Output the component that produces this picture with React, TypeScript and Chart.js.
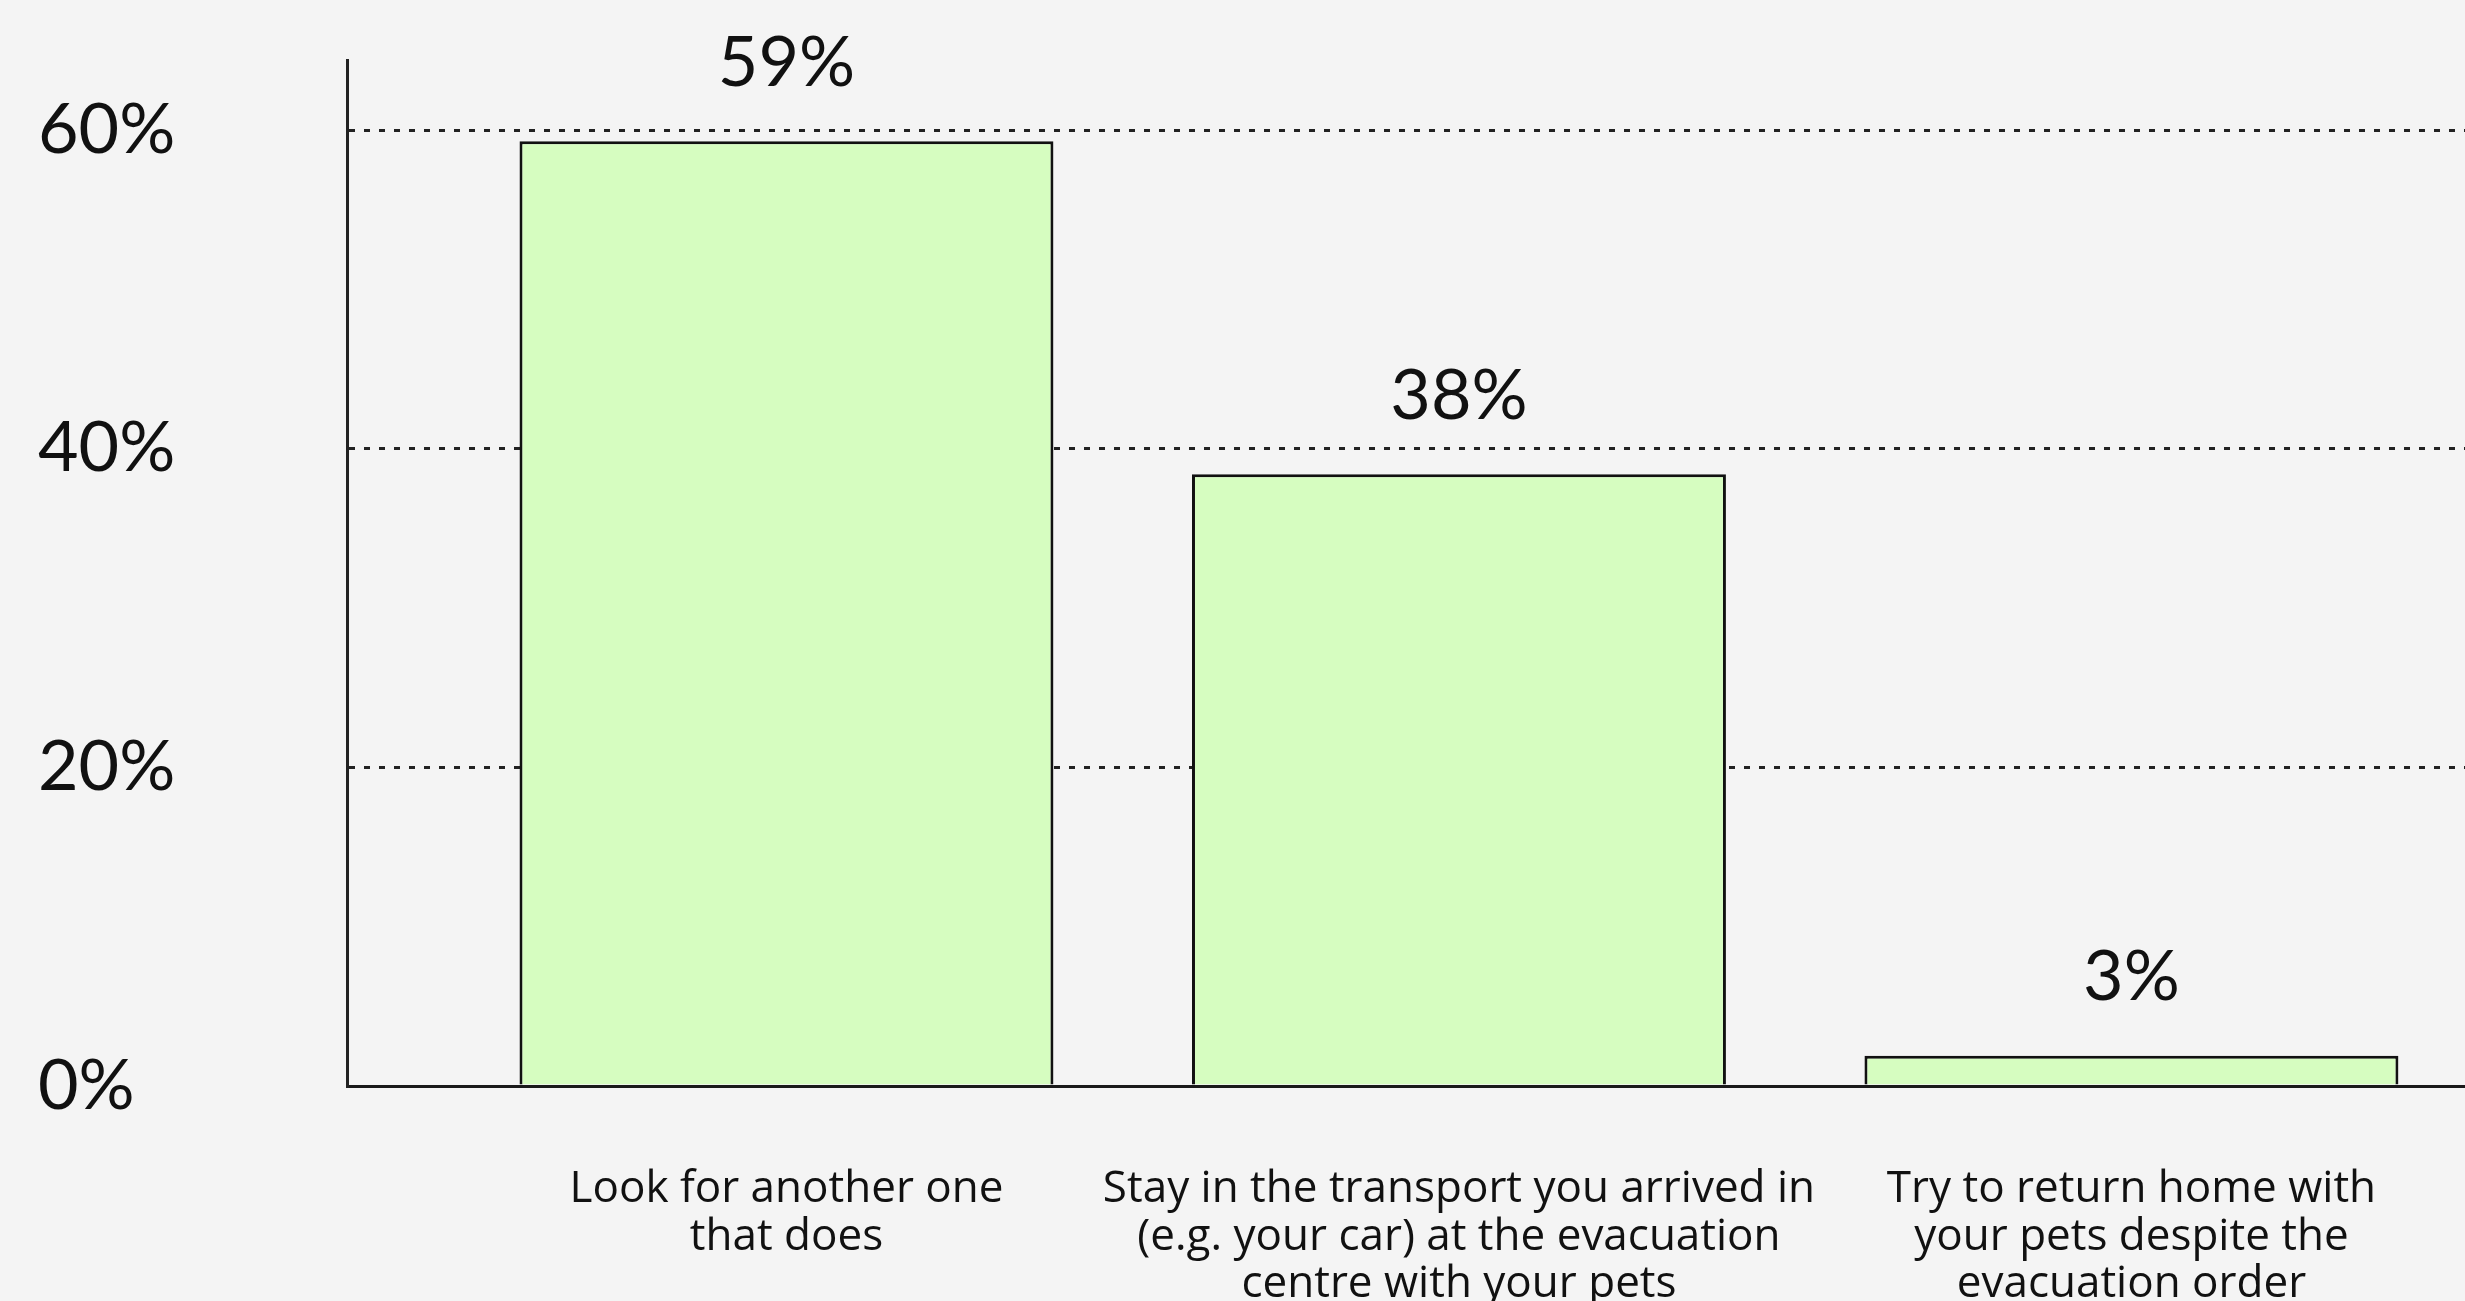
import React, { useEffect, useRef } from "react";
import { Chart, registerables } from "chart.js";

Chart.register(...registerables);

const categories: string[][] = [
  ["Look for another one", "that does"],
  ["Stay in the transport you arrived in", "(e.g. your car) at the evacuation", "centre with your pets"],
  ["Try to return home with", "your pets despite the", "evacuation order"],
];
const values: number[] = [59.3, 38.4, 1.9];
const valueLabels: string[] = ["59%", "38%", "3%"];
const yTicks: number[] = [0, 20, 40, 60];

const NUM_FONT = "Lato, 'Open Sans', sans-serif";
const CAT_FONT = "'Open Sans', Lato, sans-serif";
const TEXT = "#111111";

const valueLabelPlugin = {
  id: "valueLabels",
  afterDatasetsDraw(chart: any) {
    const { ctx } = chart;
    const meta = chart.getDatasetMeta(0);
    ctx.save();
    ctx.font = `400 70px ${NUM_FONT}`;
    ctx.fillStyle = TEXT;
    ctx.textAlign = "center";
    ctx.textBaseline = "middle";
    meta.data.forEach((bar: any, i: number) => {
      ctx.fillText(valueLabels[i], bar.x, bar.y - 78);
    });
    ctx.restore();
  },
};

export default function App() {
  const ref = useRef<HTMLCanvasElement | null>(null);

  useEffect(() => {
    document.body.style.margin = "0";
    document.body.style.background = "#f4f4f4";
    const canvas = ref.current;
    if (!canvas) return;
    const chart = new Chart(canvas, {
      type: "bar",
      data: {
        datasets: [
          {
            data: values.map((v, i) => ({ x: i, y: v })),
            backgroundColor: "#d6fdc0",
            borderColor: "#111111",
            borderWidth: 3,
            categoryPercentage: 1,
            barPercentage: 0.794,
          },
        ],
      },
      options: {
        animation: false,
        responsive: false,
        devicePixelRatio: 1,
        layout: { padding: { top: 60, left: 38, right: 0, bottom: 0 } },
        plugins: {
          legend: { display: false },
          tooltip: { enabled: false },
        },
        scales: {
          x: {
            type: "linear",
            offset: false,
            min: -0.6535,
            max: 2.496,
            grid: { display: false, drawTicks: false, offset: false },
            border: { display: true, color: "#1a1a1a", width: 3 },
            afterBuildTicks: (scale: any) => {
              scale.ticks = categories.map((_, i) => ({ value: i }));
            },
            afterFit: (scale: any) => {
              scale.height = 215;
              scale.paddingLeft = 0;
              scale.paddingRight = 0;
            },
            ticks: {
              autoSkip: false,
              maxRotation: 0,
              minRotation: 0,
              padding: 80,
              color: TEXT,
              font: { family: CAT_FONT, size: 44, lineHeight: 1.08 },
              callback: (value: any) => categories[Math.round(Number(value))] ?? "",
            },
          },
          y: {
            type: "linear",
            min: 0,
            max: 64.4,
            afterBuildTicks: (scale: any) => {
              scale.ticks = yTicks.map((v) => ({ value: v }));
            },
            afterFit: (scale: any) => {
              scale.width = 309;
              scale.paddingTop = 0;
              scale.paddingBottom = 0;
            },
            grid: {
              drawTicks: false,
              lineWidth: 3,
              color: (ctx: any) => (ctx.tick && ctx.tick.value === 0 ? "rgba(0,0,0,0)" : "#222222"),
            },
            border: { display: true, color: "#222222", width: 3, dash: [6, 9] },
            ticks: {
              crossAlign: "far",
              padding: 0,
              color: TEXT,
              font: { family: NUM_FONT, size: 70 },
              callback: (value: any) => `${value}%`,
            },
          },
        },
      },
      plugins: [valueLabelPlugin],
    });
    return () => chart.destroy();
  }, []);

  return (
    <div style={{ position: "fixed", left: 0, top: 0, width: 2465, height: 1301, background: "#f4f4f4" }}>
      <canvas ref={ref} width={2465} height={1301} style={{ display: "block" }} />
    </div>
  );
}
